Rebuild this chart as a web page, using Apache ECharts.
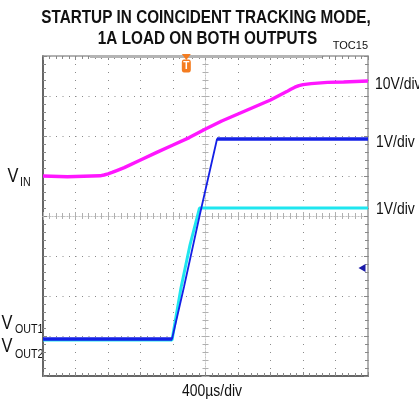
<!DOCTYPE html>
<html lang="en">
<head>
<meta charset="UTF-8">
<title>Startup in coincident tracking mode</title>
<script src="https://cdn.jsdelivr.net/npm/echarts@6/dist/echarts.min.js"></script>
<style>
  html, body { margin: 0; padding: 0; background: #fff; }
  #main { width: 419px; height: 402px; }
</style>
</head>
<body>
<div id="main"></div>
<script type="text/javascript">
// time in µs, 400µs/div, 10 divisions
var timeMin = -2000;
var timeMax = 2000;
var timeDiv = 400;

// VIN trace, 10V/div, ground marker 1 div above centre
var vinTime = [-2000, -1700, -1400, -1300, -1250, -1200, -1150, -1100, -1000, -800, -600, -400, -200, 0, 200, 400, 600, 800, 1000, 1050, 1100, 1150, 1200, 1300, 1500, 1700, 2000];
var vinVolts = [0, -0.2, 0, 0.05, 0.25, 0.55, 0.9, 1.3, 2.1, 4.0, 5.9, 7.75, 9.6, 11.75, 13.75, 15.5, 17.25, 19.0, 21.1, 21.7, 22.2, 22.6, 22.85, 23.1, 23.4, 23.5, 23.75];

// VOUT1 trace, 1V/div
var out1Time = [-2000, -412, -265, -68, 142, 2000];
var out1Volts = [0, 0, 1.3, 3.125, 5.0, 5.0];

// VOUT2 trace, 1V/div
var out2Time = [-2000, -412, -302, -191, -74, 2000];
var out2Volts = [0, 0, 1.3, 2.375, 3.3, 3.3];

// channel setup: volts per div and ground offset (div from centre)
var vinScale = 10, vinOffset = 1.0;
var out1Scale = 1, out1Offset = -3.075;
var out2Scale = 1, out2Offset = -3.1;

// trigger position and trigger level marker
var trigTime = -236;
var levelTime = 1926, levelDiv = -1.3;

function trace(times, volts, scale, offset) {
    var pts = [];
    for (var i = 0; i < times.length; i++) {
        pts.push([times[i], offset + volts[i] / scale]);
    }
    return pts;
}

// only the flat (noisy, wide) stretches of a trace, broken by gaps
function flats(times, volts, scale, offset) {
    var pts = [];
    for (var i = 0; i < times.length; i++) {
        var flatPrev = i > 0 && volts[i - 1] === volts[i];
        var flatNext = i < times.length - 1 && volts[i + 1] === volts[i];
        if (flatPrev || flatNext) {
            pts.push([times[i], offset + volts[i] / scale]);
        } else if (pts.length && pts[pts.length - 1] !== '-') {
            pts.push('-');
        }
    }
    return pts;
}

// Arial Narrow look: Liberation Sans squeezed horizontally
var sans = "'Liberation Sans', Arial, sans-serif";
var squeeze = 0.82;

function label(txt, x, y, size, align, vAlign, bold, sx) {
    return {
        type: 'text', x: x, y: y, scaleX: sx === undefined ? squeeze : sx,
        style: {
            text: txt, font: (bold ? 'bold ' : '') + size + 'px ' + sans,
            fill: '#111', textAlign: align, textVerticalAlign: vAlign
        }
    };
}

var myChart = echarts.init(document.getElementById('main'), null, {renderer: 'canvas'});

// frame axes (grid 0) and centre cross-hair axes (grid 1)
function frameX(pos, split) {
    return {
        type: 'value', gridIndex: 0, position: pos,
        min: timeMin, max: timeMax, interval: timeDiv,
        axisLine: {onZero: false, lineStyle: {color: pos === 'bottom' ? '#666' : '#999', width: pos === 'bottom' ? 2 : 1.5}},
        axisTick: {inside: true, length: 4, lineStyle: {color: '#888'}},
        minorTick: {show: true, splitNumber: 5, length: 3, lineStyle: {color: '#888'}},
        splitLine: {show: split, lineStyle: {color: '#8a8a8a', type: [1, 7]}},
        axisLabel: {show: false}
    };
}
function frameY(pos, split) {
    return {
        type: 'value', gridIndex: 0, position: pos,
        min: -4, max: 4, interval: 1,
        axisLine: {onZero: false, lineStyle: {color: pos === 'left' ? '#666' : '#999', width: pos === 'left' ? 2 : 1.5}},
        axisTick: {inside: true, length: 4, lineStyle: {color: '#888'}},
        minorTick: {show: true, splitNumber: 5, length: 3, lineStyle: {color: '#888'}},
        splitLine: {show: split, lineStyle: {color: '#8a8a8a', type: [1, 5.5]}},
        axisLabel: {show: false}
    };
}
function crossX(pos) {
    return {
        type: 'value', gridIndex: 1, position: pos,
        min: timeMin, max: timeMax, interval: timeDiv,
        axisLine: {onZero: true, lineStyle: {color: '#c4c4c4', width: 1, type: [1, 2]}},
        axisTick: {inside: true, length: 4, lineStyle: {color: '#b0b0b0'}},
        minorTick: {show: true, splitNumber: 5, length: 3, lineStyle: {color: '#b0b0b0'}},
        splitLine: {show: false},
        axisLabel: {show: false}
    };
}
function crossY(pos) {
    return {
        type: 'value', gridIndex: 1, position: pos,
        min: -4, max: 4, interval: 1,
        axisLine: {onZero: true, lineStyle: {color: '#c4c4c4', width: 1, type: [1, 2]}},
        axisTick: {inside: true, length: 4, lineStyle: {color: '#b0b0b0'}},
        minorTick: {show: true, splitNumber: 5, length: 3, lineStyle: {color: '#b0b0b0'}},
        splitLine: {show: false},
        axisLabel: {show: false}
    };
}

var option = {
    backgroundColor: '#fff',
    animation: false,
    grid: [
        {left: 43, right: 51, top: 56, bottom: 26, outerBoundsMode: 'none'},
        {left: 43, right: 51, top: 56, bottom: 26, outerBoundsMode: 'none'}
    ],
    xAxis: [frameX('bottom', true), frameX('top', false), crossX('bottom'), crossX('top')],
    yAxis: [frameY('left', true), frameY('right', false), crossY('left'), crossY('right')],
    series: [
        {
            name: 'VIN', type: 'line', xAxisIndex: 0, yAxisIndex: 0,
            data: trace(vinTime, vinVolts, vinScale, vinOffset),
            showSymbol: false,
            lineStyle: {color: '#ff16ff', width: 3.4},
            markLine: {
                silent: true, symbol: 'none', label: {show: false},
                lineStyle: {color: '#b4b4b4', width: 3, type: 'solid'},
                data: [[{coord: [-1422, 4]}, {coord: [1434, 4]}]]
            },
            markPoint: {
                silent: true,
                data: [
                    {coord: [trigTime, 4], symbol: 'triangle', symbolRotate: 180, symbolSize: [9, 6], symbolOffset: [0, 1],
                        itemStyle: {color: '#f47c20'}, label: {show: false}},
                    {coord: [trigTime, 3.75], symbol: 'roundRect', symbolSize: [9, 13],
                        itemStyle: {color: '#f47c20'},
                        label: {show: true, formatter: 'T', color: '#fff', fontSize: 10, fontWeight: 'bold', fontFamily: 'Liberation Sans'}}
                ]
            }
        },
        {
            name: 'VOUT2', type: 'line', xAxisIndex: 0, yAxisIndex: 0,
            data: trace(out2Time, out2Volts, out2Scale, out2Offset),
            showSymbol: false,
            lineStyle: {color: '#1fe6ef', width: 3}
        },
        {
            name: 'VOUT1', type: 'line', xAxisIndex: 0, yAxisIndex: 0,
            data: trace(out1Time, out1Volts, out1Scale, out1Offset),
            showSymbol: false,
            lineStyle: {color: '#1420e6', width: 1.8},
            markPoint: {
                silent: true,
                data: [
                    {coord: [levelTime, levelDiv], symbol: 'triangle', symbolRotate: 90, symbolSize: [8, 7],
                        itemStyle: {color: '#1a1aa8'}, label: {show: false}}
                ]
            }
        },
        {
            name: 'VOUT1 flat', type: 'line', xAxisIndex: 0, yAxisIndex: 0,
            data: flats(out1Time, out1Volts, out1Scale, out1Offset),
            showSymbol: false, connectNulls: false,
            lineStyle: {color: '#1420e6', width: 3.4}
        }
    ],
    graphic: [
        label('STARTUP IN COINCIDENT TRACKING MODE,', 206, 18.5, 18, 'center', 'middle', true, 0.85),
        label('1A LOAD ON BOTH OUTPUTS', 207.5, 39.5, 18, 'center', 'middle', true, 0.85),
        label('TOC15', 368, 51, 11, 'right', 'bottom', false, 1),
        label('10V/div', 375, 84.5, 17, 'left', 'middle'),
        label('1V/div', 376, 142, 17, 'left', 'middle'),
        label('1V/div', 376, 209, 17, 'left', 'middle'),
        label('400µs/div', 212, 391, 17, 'center', 'middle'),
        label('V', 7.5, 186.5, 20, 'left', 'bottom'),
        label('IN', 20, 189, 13, 'left', 'bottom'),
        label('V', 1.5, 333.5, 20, 'left', 'bottom'),
        label('OUT1', 15, 336, 13, 'left', 'bottom'),
        label('V', 1.5, 356.5, 20, 'left', 'bottom'),
        label('OUT2', 15, 361, 13, 'left', 'bottom')
    ]
};

myChart.setOption(option);
</script>
</body>
</html>
